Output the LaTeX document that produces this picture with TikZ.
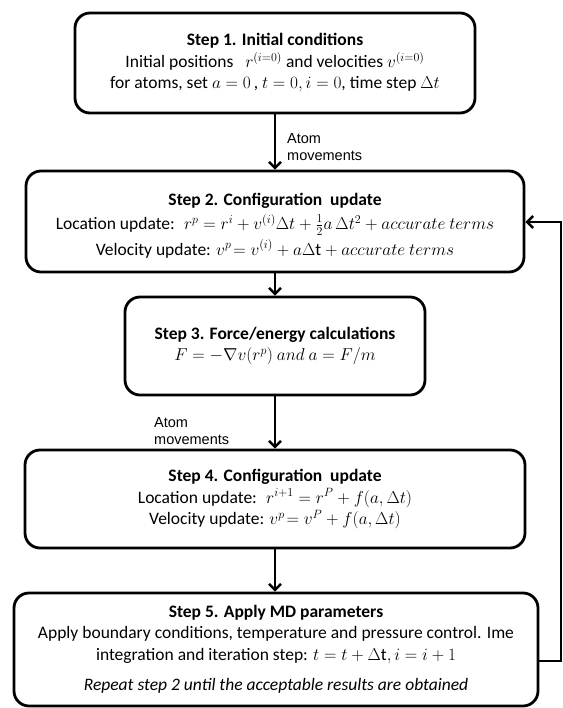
\documentclass[tikz,border=0pt]{standalone}
\usepackage{fontspec}
\setmainfont{Carlito}
\newfontfamily\arialf{Liberation Sans}
\usetikzlibrary{arrows.meta}
\begin{document}
\begin{tikzpicture}[x=1pt,y=-1pt,
  box/.style={draw, line width=2.8pt, rounded corners=15pt, align=center, inner sep=0pt,
    font=\fontsize{17.5}{21.5}\selectfont},
  arr/.style={line width=2.4pt, -{Straight Barb[length=6pt,width=12pt]}},
  lab/.style={font=\arialf\fontsize{14.5}{17.5}\selectfont, align=left, inner sep=0pt, anchor=west}]
\useasboundingbox (0,0) rectangle (562,708);

\node[box, minimum width=400pt, minimum height=100pt] (b1) at (275,63)
  {\textbf{Step 1. Initial conditions}\\
   Initial positions~~ $r^{(i=0)}$ and velocities $v^{(i=0)}$\\
   for atoms, set $a=0$\,, $t=0, i=0$, time step $\Delta t$};

\node[box, minimum width=498pt, minimum height=101pt] (b2) at (275,221.5)
  {\rule{0pt}{20pt}\textbf{Step 2. Configuration\ \ update}\\[3pt]
   Location update:~ $r^p = r^i + v^{(i)}\Delta t + \frac{1}{2} a\,\Delta t^2 + accurate\ terms$\\[4pt]
   Velocity update: $v^p\!= v^{(i)} + a\Delta\mathrm{t} + accurate\ terms$};

\node[box, minimum width=300pt, minimum height=98pt] (b3) at (275,346)
  {\textbf{Step 3. Force/energy calculations}\\
   $F = -\nabla v(r^p)\ and\ a = F/m$};

\node[box, minimum width=500pt, minimum height=98pt] (b4) at (275,499)
  {\textbf{Step 4. Configuration\ \ update}\\
   Location update:~ $r^{i+1} = r^P + f(a, \Delta t)$\\
   Velocity update: $v^p\!= v^P + f(a, \Delta t)$};

\node[box, minimum width=524pt, minimum height=113pt] (b5) at (276,649.5)
  {\textbf{Step 5. Apply MD parameters}\\
   Apply boundary conditions, temperature and pressure control. Ime\\
   integration and iteration step: $t = t + \Delta\mathrm{t}, i = i + 1$\\[9pt]
   \textit{Repeat step 2 until the acceptable results are obtained}};

\node[lab] (l1) at (287,147) {Atom\\movements};
\node[lab] (l2) at (154,431) {Atom\\movements};

\draw[arr] (b1.south) -- (b2.north);
\draw[arr] (b2.south) -- (b3.north);
\draw[arr] (b3.south) -- (b4.north);
\draw[arr] (b4.south) -- (b4.south |- b5.north);

\coordinate (fa) at (561,661);
\coordinate (fb) at (561,222);
\draw[arr] (b5.east |- fa) -- (fa) -- (fb) -- (b2.east |- fb);
\end{tikzpicture}
\end{document}
